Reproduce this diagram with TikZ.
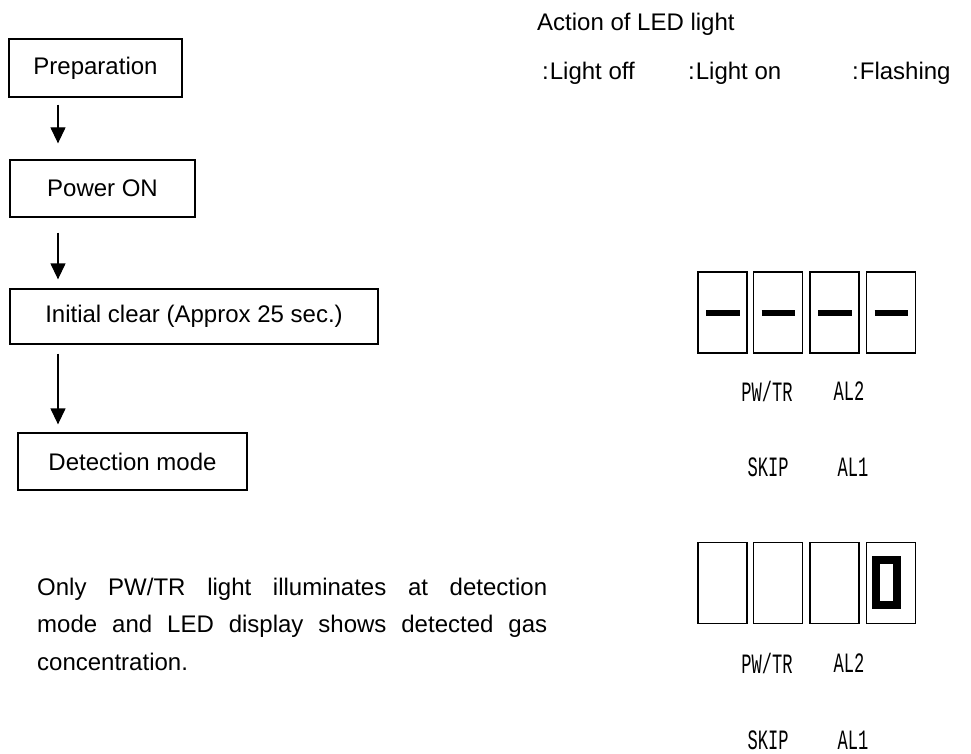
\documentclass[tikz,border=0pt]{standalone}
\usepackage{fontspec}
\setmainfont{Liberation Sans}
\newfontfamily\ledfont{Liberation Mono}
\usetikzlibrary{arrows.meta}
\begin{document}
\begin{tikzpicture}[x=1pt,y=-1pt,
  flowbox/.style={draw,line width=1.3pt,inner sep=0pt,font=\fontsize{24}{28}\selectfont},
  arr/.style={line width=1.3pt,-{Triangle[width=15pt,length=16pt]}},
  ledbox/.style={draw,line width=1.7pt,minimum width=49pt,minimum height=81pt,inner sep=0pt},
  seg/.style={line width=6pt},
  ledlabel/.style={inner sep=0pt,font=\ledfont\fontsize{28}{30}\selectfont},
  plain/.style={inner sep=0pt,font=\fontsize{24}{28}\selectfont}]
\useasboundingbox (0,0) rectangle (971,754);
\fill[white] (0,0) rectangle (971,754);

% flow chart
\node[flowbox,minimum width=173pt,minimum height=58pt] (prep) at (95.5,68) {Preparation};
\node[flowbox,minimum width=185pt,minimum height=57pt] (pwr) at (102.5,188.5) {Power ON};
\node[flowbox,minimum width=368pt,minimum height=55pt] (init) at (194,316.5) {Initial clear (Approx 25 sec.)};
\node[flowbox,minimum width=229pt,minimum height=57pt] (det) at (132.5,461.5) {Detection mode};

\coordinate (ax) at (58,0);
\draw[arr,shorten <=7pt,shorten >=16pt] (prep.south -| ax) -- (pwr.north -| ax);
\draw[arr,shorten <=15pt,shorten >=9pt] (pwr.south -| ax) -- (init.north -| ax);
\draw[arr,shorten <=9pt,shorten >=8pt] (init.south -| ax) -- (det.north -| ax);

% paragraph
\node[anchor=north west,inner sep=0pt,text width=510pt,align=justify,
  font=\fontsize{24}{37.5}\selectfont] (para) at (37,577.5)
  {\tolerance=10000\hyphenpenalty=10000 Only PW/TR light illuminates at detection\linebreak
   mode and LED display shows detected gas\linebreak concentration.};

% legend
\node[plain,anchor=base west] (title) at (537,31) {Action of LED light};
\node[plain,anchor=base west] (off) at (542,80) {:\kern1pt Light off};
\node[plain,anchor=base west] (on) at (688,80) {:\kern1pt Light on};
\node[plain,anchor=base west] (fl) at (852,80) {:\kern1pt Flashing};

% LED display 1
\node[ledbox] (a1) at (722.5,312.5) {};
\node[ledbox] (a2) at (778,312.5) {};
\node[ledbox] (a3) at (834.5,312.5) {};
\node[ledbox] (a4) at (891,312.5) {};
\foreach \n in {a1,a2,a3,a4}
  \draw[seg] ([xshift=9pt]\n.west) -- ([xshift=-8pt]\n.east);
\node[ledlabel] (pwa) at (767,391) {\scalebox{0.61}[1]{PW/TR}};
\node[ledlabel] (al2a) at (849,391) {\scalebox{0.61}[1]{AL2}};
\node[ledlabel] (skipa) at (768,467) {\scalebox{0.61}[1]{SKIP}};
\node[ledlabel] (al1a) at (853,467) {\scalebox{0.61}[1]{AL1}};

% LED display 2
\node[ledbox] (b1) at (722.5,583) {};
\node[ledbox] (b2) at (778,583) {};
\node[ledbox] (b3) at (834.5,583) {};
\node[ledbox] (b4) at (891,583) {};
\draw[line width=8pt] (876,560) rectangle (897,605);
\node[ledlabel] (pwb) at (767,663) {\scalebox{0.61}[1]{PW/TR}};
\node[ledlabel] (al2b) at (849,663) {\scalebox{0.61}[1]{AL2}};
\node[ledlabel] (skipb) at (768,740) {\scalebox{0.61}[1]{SKIP}};
\node[ledlabel] (al1b) at (853,740) {\scalebox{0.61}[1]{AL1}};
\end{tikzpicture}
\end{document}
